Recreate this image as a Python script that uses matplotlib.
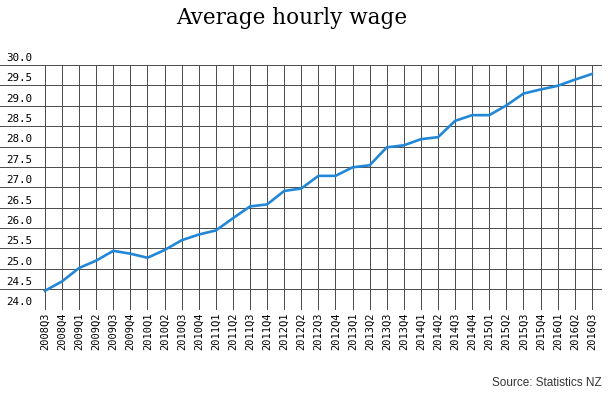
import matplotlib
matplotlib.use("Agg")
import matplotlib.pyplot as plt

# quarterly average hourly wage (NZD)
quarters = [
    "2008Q3", "2008Q4", "2009Q1", "2009Q2", "2009Q3", "2009Q4",
    "2010Q1", "2010Q2", "2010Q3", "2010Q4", "2011Q1", "2011Q2",
    "2011Q3", "2011Q4", "2012Q1", "2012Q2", "2012Q3", "2012Q4",
    "2013Q1", "2013Q2", "2013Q3", "2013Q4", "2014Q1", "2014Q2",
    "2014Q3", "2014Q4", "2015Q1", "2015Q2", "2015Q3", "2015Q4",
    "2016Q1", "2016Q2", "2016Q3",
]
wage = [
    24.46, 24.69, 25.02, 25.20, 25.44, 25.37,
    25.27, 25.46, 25.70, 25.84, 25.94, 26.24,
    26.53, 26.58, 26.91, 26.97, 27.28, 27.28,
    27.49, 27.54, 27.98, 28.03, 28.18, 28.23,
    28.63, 28.77, 28.77, 29.01, 29.30, 29.40,
    29.49, 29.64, 29.78,
]
y_ticks = [24.0, 24.5, 25.0, 25.5, 26.0, 26.5, 27.0, 27.5, 28.0, 28.5, 29.0, 29.5, 30.0]

fig = plt.figure(figsize=(6.08, 3.99), dpi=100)
ax = fig.add_axes([0.0, 0.2243, 0.990, 0.837 - 0.2243])

x = list(range(len(quarters)))

# grid: horizontal lines across the whole width, vertical lines at each quarter
for v in y_ticks:
    ax.axhline(v, color="#4a4a4a", lw=0.7, zorder=1)
for xi in x:
    ax.axvline(xi, color="#4a4a4a", lw=0.7, zorder=1)

ax.plot(x, wage, color="#2187d6", lw=1.9, zorder=3)

ax.set_xlim(-2.63, 32.59)
ax.set_ylim(24.0, 30.0)
for s in ax.spines.values():
    s.set_visible(False)

ax.set_yticks([])
ax.set_xticks(x)
ax.set_xticklabels(quarters, rotation=90, fontsize=7.5, family="DejaVu Sans Mono")
ax.tick_params(axis="x", length=0, pad=2.5)

# y labels sit on top of their gridlines at the left edge
for v in y_ticks:
    ax.annotate(f"{v:.1f}", xy=(0.01, v), xycoords=("axes fraction", "data"),
                xytext=(0, 1.5), textcoords="offset points",
                ha="left", va="bottom", fontsize=7.8, family="DejaVu Sans Mono")

fig.text(0.48, 0.955, "Average hourly wage", ha="center", va="center",
         fontsize=15.5, family="DejaVu Serif")
fig.text(0.99, 0.04, "Source: Statistics NZ", ha="right", va="center",
         fontsize=8.5, family="Liberation Sans", color="#333333")

fig.savefig("out.png", dpi=100)
